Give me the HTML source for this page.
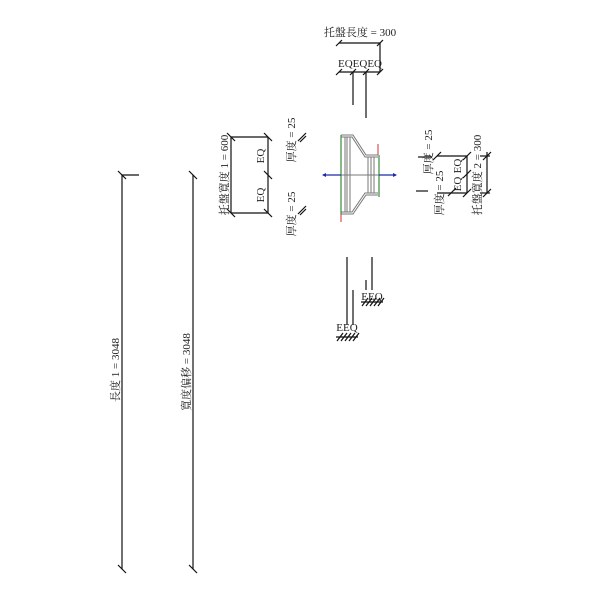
<!DOCTYPE html>
<html><head><meta charset="utf-8"><style>
html,body{margin:0;padding:0;background:#fff;width:600px;height:600px;overflow:hidden}
svg text{font-family:"Liberation Serif","Noto Serif CJK SC","Noto Sans CJK TC",serif;font-size:11px;fill:#222}
</style></head><body>
<svg width="600" height="600" viewBox="0 0 600 600" xmlns="http://www.w3.org/2000/svg">
<g stroke="#111" stroke-width="1.2" fill="none">
<line x1="122" y1="175" x2="122" y2="569"/><line x1="122" y1="175" x2="139" y2="175"/>
<line x1="193" y1="175" x2="193" y2="569"/>
<line x1="118" y1="171" x2="126" y2="179"/><line x1="118" y1="565" x2="126" y2="573"/>
<line x1="189" y1="171" x2="197" y2="179"/><line x1="189" y1="565" x2="197" y2="573"/>
<line x1="339" y1="43" x2="380" y2="43"/><line x1="380" y1="43" x2="380" y2="72"/>
<line x1="336" y1="46" x2="342" y2="40"/><line x1="377" y1="46" x2="383" y2="40"/>
<line x1="339" y1="72" x2="380" y2="72"/>
<line x1="336" y1="75" x2="342" y2="69"/><line x1="350" y1="75" x2="356" y2="69"/><line x1="363" y1="75" x2="369" y2="69"/><line x1="377" y1="75" x2="383" y2="69"/>
<line x1="353" y1="72" x2="353" y2="105"/><line x1="366" y1="72" x2="366" y2="118"/>
<line x1="231" y1="137" x2="268" y2="137"/><line x1="231" y1="213" x2="268" y2="213"/>
<line x1="231" y1="137" x2="231" y2="213"/><line x1="268" y1="137" x2="268" y2="213"/>
<line x1="227" y1="133" x2="235" y2="141"/><line x1="264" y1="133" x2="272" y2="141"/>
<line x1="264" y1="171" x2="272" y2="179"/><line x1="227" y1="209" x2="235" y2="217"/><line x1="264" y1="209" x2="272" y2="217"/>
<line x1="298" y1="141" x2="306" y2="133"/><line x1="300" y1="142" x2="306" y2="136"/>
<line x1="298" y1="214" x2="306" y2="206"/><line x1="300" y1="215" x2="306" y2="209"/>
<line x1="418" y1="157" x2="432" y2="157"/><line x1="416" y1="191" x2="428" y2="191"/>
<line x1="437" y1="156" x2="467" y2="156"/><line x1="437" y1="193" x2="467" y2="193"/>
<line x1="467" y1="156" x2="467" y2="193"/><line x1="487" y1="152" x2="487" y2="193"/>
<line x1="433" y1="160" x2="441" y2="152"/><line x1="463" y1="160" x2="471" y2="152"/><line x1="463" y1="178" x2="471" y2="170"/>
<line x1="463" y1="197" x2="471" y2="189"/><line x1="483" y1="160" x2="491" y2="152"/><line x1="483" y1="197" x2="491" y2="189"/>
<line x1="448" y1="196" x2="456" y2="188"/><line x1="480" y1="156" x2="490" y2="156"/><line x1="480" y1="193" x2="490" y2="193"/>
<line x1="347" y1="257" x2="347" y2="325"/><line x1="353" y1="290" x2="353" y2="325"/>
<line x1="372" y1="257" x2="372" y2="290"/><line x1="366" y1="280" x2="366" y2="290"/>
<path d="M337 341l6-8M341 341l6-8M345 341l6-8M349 341l6-8M353 341l6-8M336 337h22"/>
<path d="M362 306l6-8M366 306l6-8M370 306l6-8M374 306l6-8M378 306l6-8M361 302h22"/>
</g>
<g fill="none" stroke="#777" stroke-width="1">
<path d="M341 135H353L366 155H378M341 137H352L365 157H378"/>
<path d="M341 214H353L366 195H378M341 212H352L365 193H378"/>
<line x1="345" y1="137" x2="345" y2="212"/><line x1="347" y1="137" x2="347" y2="212"/><line x1="350" y1="137" x2="350" y2="212"/>
<line x1="368" y1="157" x2="368" y2="193"/><line x1="371" y1="157" x2="371" y2="193"/><line x1="374" y1="157" x2="374" y2="193"/>
<line x1="341" y1="175" x2="379" y2="175"/>
</g>
<line x1="341" y1="135" x2="341" y2="214" stroke="#3a8a3a" stroke-width="1.2"/>
<line x1="379" y1="155" x2="379" y2="197" stroke="#3a8a3a" stroke-width="1.2"/>
<line x1="378" y1="144" x2="378" y2="155" stroke="#c33" stroke-width="1"/>
<line x1="341" y1="214" x2="341" y2="222" stroke="#c33" stroke-width="1"/>
<g stroke="#1a2aa8" stroke-width="1.3"><line x1="323" y1="175" x2="341" y2="175"/><line x1="379" y1="175" x2="396" y2="175"/></g>
<path d="M322 175l4-2v4z M397 175l-4-2v4z" fill="#1a2aa8"/>
<text x="360" y="36" text-anchor="middle">托盤長度 = 300</text>
<text x="360" y="67" text-anchor="middle" font-size="10">EQEQEQ</text>
<text x="347" y="331" text-anchor="middle" font-size="10">EEQ</text>
<text x="372" y="300" text-anchor="middle" font-size="10">EEQ</text>
<text transform="translate(119,370) rotate(-90)" text-anchor="middle">長度 1 = 3048</text>
<text transform="translate(190,372) rotate(-90)" text-anchor="middle">寬度偏移 = 3048</text>
<text transform="translate(228,175) rotate(-90)" text-anchor="middle">托盤寬度 1 = 600</text>
<text transform="translate(264,156) rotate(-90)" text-anchor="middle">EQ</text>
<text transform="translate(264,195) rotate(-90)" text-anchor="middle">EQ</text>
<text transform="translate(295,140) rotate(-90)" text-anchor="middle">厚度 = 25</text>
<text transform="translate(295,214) rotate(-90)" text-anchor="middle">厚度 = 25</text>
<text transform="translate(432,152) rotate(-90)" text-anchor="middle">厚度 = 25</text>
<text transform="translate(443,193) rotate(-90)" text-anchor="middle">厚度 = 25</text>
<text transform="translate(461,166) rotate(-90)" text-anchor="middle">EQ</text>
<text transform="translate(461,184) rotate(-90)" text-anchor="middle">EQ</text>
<text transform="translate(481,175) rotate(-90)" text-anchor="middle">托盤寬度 2 = 300</text>
</svg>
</body></html>
